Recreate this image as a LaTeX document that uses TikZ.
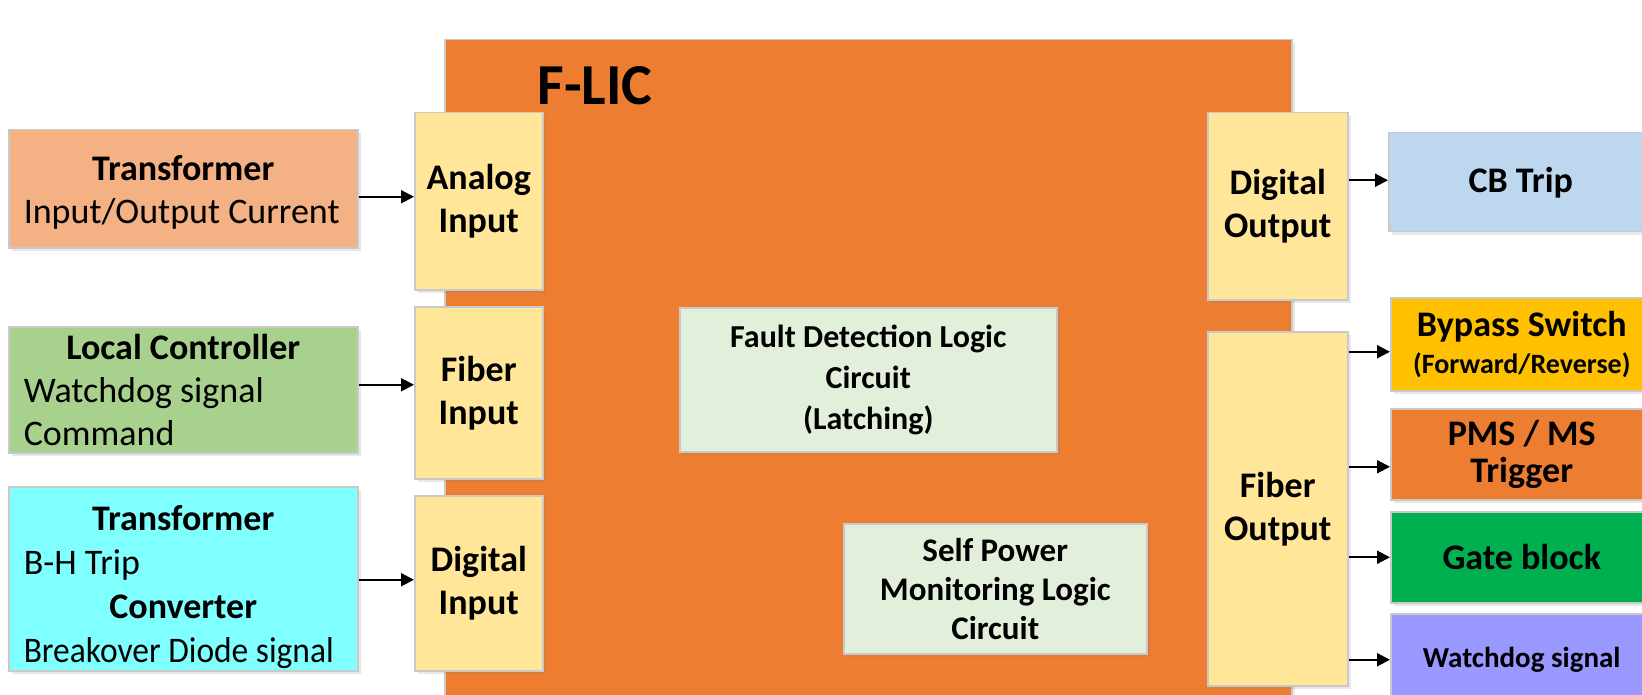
\documentclass[tikz,border=0pt]{standalone}
\usepackage{fontspec}
\usepackage{graphicx}
\setmainfont{Carlito}
\usetikzlibrary{arrows.meta,shadows,calc}
\definecolor{cMain}{HTML}{ED7D31}
\definecolor{cSalmon}{HTML}{F4B183}
\definecolor{cYellow}{HTML}{FFE699}
\definecolor{cGreenL}{HTML}{A9D18E}
\definecolor{cCyan}{HTML}{80FFFF}
\definecolor{cPale}{HTML}{E2EFDA}
\definecolor{cBlue}{HTML}{BDD7EE}
\definecolor{cGold}{HTML}{FFC000}
\definecolor{cGreen}{HTML}{00B050}
\definecolor{cPurple}{HTML}{9999FF}
\definecolor{cBorder}{HTML}{C9C9C9}
\begin{document}
\begin{tikzpicture}[x=0.5pt,y=-0.5pt,
  box/.style={draw=cBorder, line width=0.75pt, inner sep=0pt, anchor=north west,
    drop shadow={shadow xshift=1.5pt,shadow yshift=-1.5pt,opacity=0.18}},
  big/.style={font=\fontsize{18}{21.5}\selectfont\bfseries, align=center},
  leftbox/.style={box, minimum width=174.5pt, align=left,
    font=\fontsize{18}{21.5}\selectfont},
  rbox/.style={box, minimum width=131pt, big},
  arr/.style={-{Triangle[length=6.5pt,width=6.5pt]}, line width=1pt},
]
\useasboundingbox (0,0) rectangle (1642,695);
\clip (0,0) rectangle (1642,695);

% main block
\node[box, fill=cMain, minimum width=423.5pt, minimum height=340.5pt] (main) at (444,39) {};
\node[font=\fontsize{29}{30}\selectfont\bfseries] (flic) at (595,86) {F-LIC};

% left sources
\node[leftbox, fill=cSalmon, minimum height=59pt] (trans) at (8,129)
  {\makebox[159.5pt][c]{\rule{0pt}{16.5pt}\bfseries Transformer}\\Input/Output Current};
\node[leftbox, fill=cGreenL, minimum height=63pt] (local) at (8,326)
  {\makebox[159.5pt][c]{\bfseries Local Controller}\\Watchdog signal\\Command};
\node[leftbox, fill=cCyan, minimum height=92pt, font=\fontsize{18}{22}\selectfont] (conv) at (8,486)
  {\makebox[159.5pt][c]{\rule{0pt}{20.5pt}\bfseries Transformer}\\B-H Trip\\\makebox[159.5pt][c]{\bfseries Converter}\\\scalebox{0.93}[1]{Breakover Diode signal}};

% input blocks
\node[box, fill=cYellow, minimum width=64pt, minimum height=88.5pt, big] (ain) at (414,112) {Analog\\Input};
\node[box, fill=cYellow, minimum width=64pt, minimum height=86pt, big] (fin) at (414,306) {Fiber\\Input};
\node[box, fill=cYellow, minimum width=64pt, minimum height=87.5pt, big] (din) at (414,495) {Digital\\Input};

% inner logic
\node[box, fill=cPale, minimum width=188.5pt, minimum height=72pt, align=center,
  font=\fontsize{16}{20.5}\selectfont\bfseries] (fault) at (679,307) {Fault Detection Logic\\Circuit\\(Latching)};
\node[box, fill=cPale, minimum width=151.5pt, minimum height=65pt, align=center,
  font=\fontsize{16.5}{19.5}\selectfont\bfseries] (self) at (843,523) {Self Power\\Monitoring Logic\\Circuit};

% output blocks
\node[box, fill=cYellow, minimum width=70pt, minimum height=93.5pt, big] (dout) at (1207,112) {Digital\\Output};
\node[box, fill=cYellow, minimum width=70pt, minimum height=177pt, big] (fout) at (1207,331) {Fiber\\Output};

% right targets
\node[rbox, fill=cBlue, minimum width=132pt, minimum height=49.5pt] (cb) at (1388,132) {CB Trip};
\node[rbox, fill=cGold, minimum height=46.5pt, font=\fontsize{18}{18.5}\selectfont\bfseries] (bypass) at (1390,297)
  {Bypass Switch\\{\fontsize{14}{16}\selectfont (Forward/Reverse)}};
\node[rbox, fill=cMain, minimum height=45.5pt, font=\fontsize{18}{18.5}\selectfont\bfseries] (pms) at (1390,408) {PMS / MS\\Trigger};
\node[rbox, fill=cGreen, minimum height=45.5pt] (gate) at (1390,511) {Gate block};
\node[rbox, fill=cPurple, minimum height=46pt, font=\fontsize{14.5}{16}\selectfont\bfseries] (wd) at (1390,613) {Watchdog signal};

% arrow end coordinates
\coordinate (a1) at ($(ain.west)+(0,-4.5)$);
\coordinate (a2) at ($(fin.west)+(0,-8)$);
\coordinate (a3) at ($(din.west)+(0,-3.5)$);
\coordinate (b1) at ($(cb.west)+(0,-2)$);
\coordinate (b2) at ($(bypass.west)+(0,7.5)$);
\coordinate (b3) at ($(pms.west)+(0,12.5)$);
\coordinate (b4) at (gate.west);
\coordinate (b5) at (wd.west);

\draw[arr] (trans.east |- a1) -- (a1);
\draw[arr] (local.east |- a2) -- (a2);
\draw[arr] (conv.east |- a3) -- (a3);
\draw[arr] (dout.east |- b1) -- (b1);
\draw[arr] (fout.east |- b2) -- (b2);
\draw[arr] (fout.east |- b3) -- (b3);
\draw[arr] (fout.east |- b4) -- (b4);
\draw[arr] (fout.east |- b5) -- (b5);
\end{tikzpicture}
\end{document}
